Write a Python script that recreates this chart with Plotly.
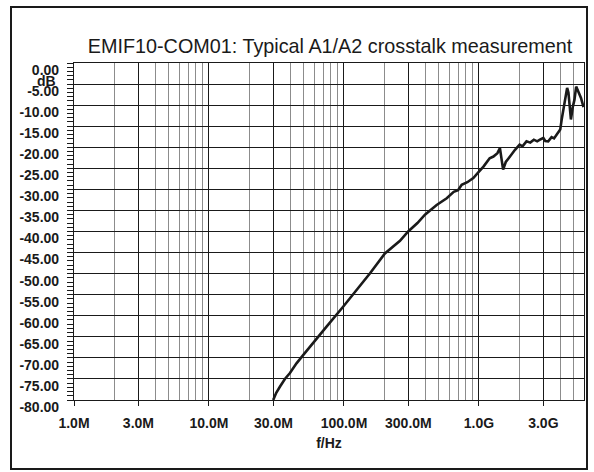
import numpy as np
import plotly.graph_objects as go

# ---- data ----
freq_hz = [29.9e6, 31.5e6, 33.6e6, 36.5e6, 39.8e6, 44.5e6, 50e6, 59.3e6, 74.3e6, 98.9e6,
           127.6e6, 156e6, 201e6, 260e6, 299e6, 350e6, 398e6, 486e6, 577e6, 650e6,
           700e6, 745e6, 820e6, 908e6, 1.0e9, 1.08e9, 1.2e9, 1.28e9, 1.37e9, 1.43e9,
           1.51e9, 1.58e9, 1.66e9, 1.75e9, 1.85e9, 2.0e9, 2.1e9, 2.25e9, 2.4e9, 2.55e9,
           2.7e9, 2.83e9, 3.0e9, 3.1e9, 3.26e9, 3.45e9, 3.6e9, 3.77e9, 4.0e9, 4.1e9,
           4.2e9, 4.35e9, 4.5e9, 4.6e9, 4.7e9, 4.8e9, 4.95e9, 5.1e9, 5.25e9, 5.4e9,
           5.5e9, 5.7e9, 5.95e9]
crosstalk_db = [-80.0, -78.3, -76.8, -75.0, -73.6, -71.3, -69.3, -66.5, -62.6, -57.8,
                -53.4, -49.9, -45.2, -42.2, -40.0, -38.0, -36.0, -33.7, -32.1, -30.6,
                -30.2, -28.9, -28.3, -27.3, -25.8, -24.6, -22.6, -22.2, -21.4, -20.2,
                -25.3, -23.5, -22.6, -21.5, -20.6, -19.4, -19.8, -18.6, -18.9, -18.2,
                -18.6, -18.2, -17.8, -18.5, -18.6, -17.6, -17.9, -17.0, -15.8, -13.4,
                -11.5, -8.7, -5.9, -7.0, -9.5, -13.4, -10.5, -8.7, -5.6, -6.5,
                -7.1, -8.3, -10.5]

x_tick_vals = [1e6, 3e6, 1e7, 3e7, 1e8, 3e8, 1e9, 3e9]
x_tick_text = ["1.0M", "3.0M", "10.0M", "30.0M", "100.0M", "300.0M", "1.0G", "3.0G"]
y_tick_vals = list(range(0, -85, -5))
y_tick_text = ["%.2f" % v for v in y_tick_vals]

title_text = "EMIF10-COM01: Typical A1/A2 crosstalk measurement"
x_title = "f/Hz"
y_unit = "dB"

FONT = "Liberation Sans, Arial, sans-serif"

minor_x = [d * 10 ** e for e in range(6, 10) for d in range(2, 10)]

fig = go.Figure()
fig.add_trace(go.Scatter(x=freq_hz, y=crosstalk_db, mode="lines",
                         line=dict(color="#1a1a1a", width=2.6), showlegend=False,
                         hoverinfo="skip"))

fig.update_layout(
    width=594, height=472,
    margin=dict(l=74, r=10, t=63, b=72),
    paper_bgcolor="white", plot_bgcolor="white",
    font=dict(family=FONT, color="#1a1a1a"),
    title=dict(text=title_text, x=0.502, xref="paper", xanchor="center",
               y=1 - 46 / 472, yref="container", yanchor="middle",
               font=dict(family=FONT, size=19.8, color="#1a1a1a")),
)

fig.update_xaxes(
    type="log", range=[6, np.log10(6e9)],
    tickmode="array", tickvals=x_tick_vals, ticktext=x_tick_text,
    tickfont=dict(family=FONT, size=14, weight="bold", color="#1a1a1a"),
    ticks="outside", ticklen=5, tickwidth=1.2, tickcolor="#1a1a1a",
    ticklabelstandoff=5,
    showgrid=True, gridcolor="#1a1a1a", gridwidth=1.2,
    minor=dict(tickvals=minor_x, showgrid=True, gridcolor="#8c8c8c", gridwidth=1, ticks=""),
    showline=True, linecolor="#1a1a1a", linewidth=1.2, mirror=True,
    title=dict(text=x_title, font=dict(family=FONT, size=14, weight="bold"), standoff=8),
    zeroline=False,
)
fig.update_yaxes(
    range=[-80, 0],
    tickmode="array", tickvals=y_tick_vals, ticktext=y_tick_text,
    tickfont=dict(family=FONT, size=14, weight="bold", color="#1a1a1a"),
    ticks="outside", ticklen=6, tickwidth=1, tickcolor="#1a1a1a",
    ticklabelshift=7, ticklabelstandoff=5,
    showgrid=True, gridcolor="#1a1a1a", gridwidth=1.2,
    minor=dict(dtick=1, ticks="outside", ticklen=6, tickwidth=1, tickcolor="#1a1a1a", showgrid=False),
    showline=True, linecolor="#1a1a1a", linewidth=1.2, mirror=True,
    zeroline=False,
)

fig.add_annotation(text=y_unit, xref="paper", yref="paper",
                   x=(46.7 - 74) / 510, y=(400 - 81) / 337, xanchor="center", yanchor="middle",
                   showarrow=False, font=dict(family=FONT, size=14, weight="bold", color="#1a1a1a"))

# outer frame
fig.add_shape(type="rect", xref="paper", yref="paper",
              x0=(11 - 74) / 510, x1=(587 - 74) / 510,
              y0=(400 - 469) / 337, y1=(400 - 7) / 337,
              line=dict(color="#1a1a1a", width=2), fillcolor="rgba(0,0,0,0)", layer="below")

fig.write_html("out.html", config={"displayModeBar": False},
               post_script="document.body.style.margin='0px';")
